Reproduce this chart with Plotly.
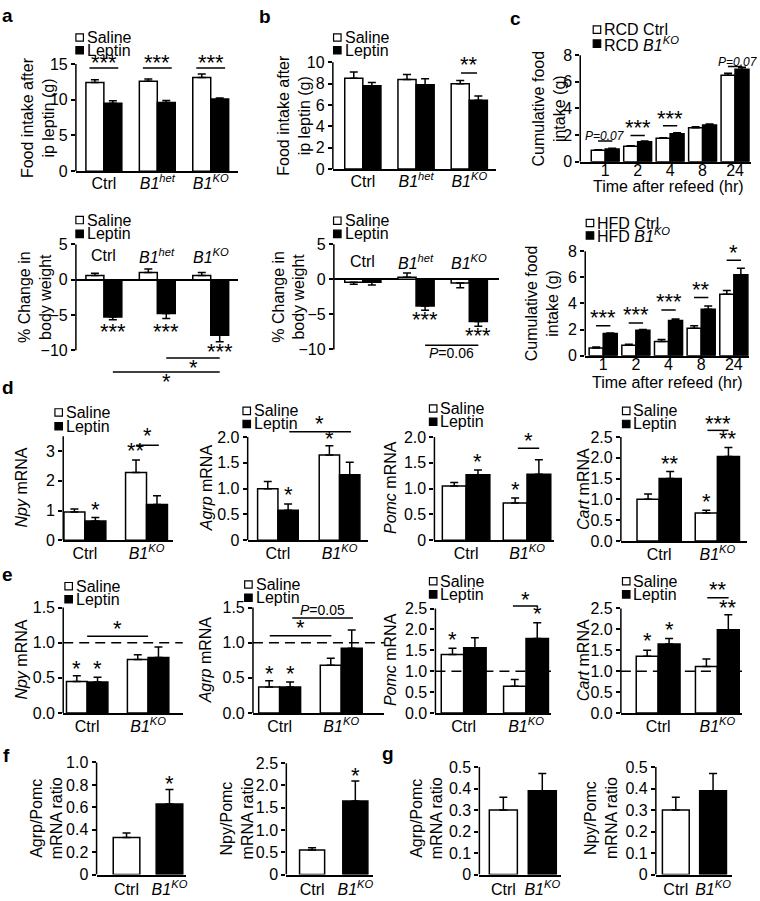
import plotly.graph_objects as go

W, H = 760, 901
FONT = "Liberation Sans, Arial, Helvetica, sans-serif"

# ---------------- data ----------------
groups3 = ["Ctrl", "B1het", "B1KO"]
groups3_text = ["Ctrl", "<i>B1<sup>het</sup></i>", "<i>B1<sup>KO</sup></i>"]
groups2 = ["Ctrl", "B1KO"]
groups2_text = ["Ctrl", "<i>B1<sup>KO</sup></i>"]
hours = ["1", "2", "4", "8", "24"]

# a: RCD food intake after ip leptin (g) and % change in body weight
a_food_saline = [12.4, 12.6, 13.1]
a_food_saline_err = [0.4, 0.3, 0.5]
a_food_leptin = [9.5, 9.6, 10.1]
a_food_leptin_err = [0.35, 0.3, 0.15]
a_bw_saline = [0.6, 1.0, 0.6]
a_bw_saline_err = [0.3, 0.5, 0.4]
a_bw_leptin = [-5.3, -4.8, -7.9]
a_bw_leptin_err = [0.4, 0.7, 0.9]

# b: HFD
b_food_saline = [8.5, 8.4, 8.0]
b_food_saline_err = [0.6, 0.45, 0.3]
b_food_leptin = [7.8, 7.9, 6.45]
b_food_leptin_err = [0.3, 0.55, 0.4]
b_bw_saline = [-0.4, 0.3, -0.5]
b_bw_saline_err = [0.3, 0.6, 0.7]
b_bw_leptin = [-0.4, -3.8, -6.0]
b_bw_leptin_err = [0.4, 0.6, 0.7]

# c: cumulative food intake (g)
c_rcd_ctrl = [0.85, 1.15, 1.75, 2.55, 6.5]
c_rcd_ctrl_err = [0.05, 0.05, 0.05, 0.08, 0.15]
c_rcd_ko = [0.95, 1.5, 2.1, 2.75, 6.95]
c_rcd_ko_err = [0.05, 0.06, 0.08, 0.08, 0.15]
c_hfd_ctrl = [0.6, 0.8, 1.1, 2.1, 4.7]
c_hfd_ctrl_err = [0.08, 0.08, 0.15, 0.2, 0.3]
c_hfd_ko = [1.7, 1.95, 2.7, 3.55, 6.2]
c_hfd_ko_err = [0.05, 0.05, 0.12, 0.25, 0.5]

# d: mRNA (RCD)
d_npy_saline = [0.95, 2.28]; d_npy_saline_err = [0.1, 0.42]
d_npy_leptin = [0.65, 1.2]; d_npy_leptin_err = [0.12, 0.3]
d_agrp_saline = [1.0, 1.65]; d_agrp_saline_err = [0.14, 0.18]
d_agrp_leptin = [0.58, 1.27]; d_agrp_leptin_err = [0.12, 0.24]
d_pomc_saline = [1.05, 0.72]; d_pomc_saline_err = [0.07, 0.1]
d_pomc_leptin = [1.27, 1.28]; d_pomc_leptin_err = [0.09, 0.28]
d_cart_saline = [1.0, 0.67]; d_cart_saline_err = [0.13, 0.07]
d_cart_leptin = [1.5, 2.03]; d_cart_leptin_err = [0.17, 0.22]

# e: mRNA (HFD)
e_npy_saline = [0.45, 0.76]; e_npy_saline_err = [0.08, 0.07]
e_npy_leptin = [0.44, 0.79]; e_npy_leptin_err = [0.07, 0.15]
e_agrp_saline = [0.37, 0.68]; e_agrp_saline_err = [0.09, 0.1]
e_agrp_leptin = [0.37, 0.92]; e_agrp_leptin_err = [0.07, 0.26]
e_pomc_saline = [1.4, 0.64]; e_pomc_saline_err = [0.15, 0.16]
e_pomc_leptin = [1.56, 1.78]; e_pomc_leptin_err = [0.24, 0.38]
e_cart_saline = [1.36, 1.11]; e_cart_saline_err = [0.14, 0.18]
e_cart_leptin = [1.65, 1.99]; e_cart_leptin_err = [0.13, 0.36]

# f, g: ratios
f_agrp_pomc = [0.33, 0.63]; f_agrp_pomc_err = [0.04, 0.13]
f_npy_pomc = [0.55, 1.65]; f_npy_pomc_err = [0.05, 0.45]
g_agrp_pomc = [0.3, 0.39]; g_agrp_pomc_err = [0.06, 0.08]
g_npy_pomc = [0.3, 0.39]; g_npy_pomc_err = [0.06, 0.08]

# ---------------- figure helpers ----------------
fig = go.Figure()
TXT = 16
layout = dict(width=W, height=H, margin=dict(l=0, r=0, t=0, b=0, pad=0),
              paper_bgcolor="white", plot_bgcolor="white", showlegend=False,
              barmode="overlay", font=dict(family=FONT, size=TXT, color="black"))
shapes, annots = [], []
count = [0]
LW = 1.5
TICKF = 16
STAR = 22


def panel(xl, xr, c0, s, ycal, top, bot, cats, yticks, yticktext, yspan,
          xticktext=None, xline=True, zeroline=False, xstandoff=-2):
    count[0] += 1
    n = count[0]
    sfx = "" if n == 1 else str(n)
    xn, yn = "x" + sfx, "y" + sfx
    (v0, p0), (v1, p1) = ycal
    k = (p0 - p1) / (v1 - v0)
    ylo = v0 + (p0 - bot) / k
    yhi = v0 + (p0 - top) / k
    layout["xaxis" + sfx] = dict(
        domain=[xl / W, xr / W], range=[(xl - c0) / s, (xr - c0) / s],
        type="category", categoryorder="array", categoryarray=cats, anchor=yn,
        showline=xline, linecolor="black", linewidth=LW, ticks="", ticklen=0,
        ticklabelstandoff=xstandoff,
        showgrid=False, zeroline=False, tickmode="array", tickvals=cats,
        ticktext=xticktext or cats, showticklabels=xticktext is not None,
        tickfont=dict(size=TICKF, family=FONT), fixedrange=True)
    layout["yaxis" + sfx] = dict(
        domain=[1 - bot / H, 1 - top / H], range=[ylo, yhi], anchor=xn,
        showline=False, ticks="outside", ticklen=4, tickwidth=LW,
        tickcolor="black", tickmode="array", tickvals=yticks,
        ticktext=yticktext, showgrid=False, zeroline=zeroline,
        zerolinecolor="black", zerolinewidth=LW,
        tickfont=dict(size=TICKF, family=FONT), fixedrange=True)
    shapes.append(dict(type="line", xref=xn + " domain", yref=yn, x0=0, x1=0,
                       y0=yspan[0], y1=yspan[1],
                       line=dict(color="black", width=LW)))
    return xn, yn


def bar(ax, cats, vals, errs, color, offset, width):
    up = [e if v >= 0 else 0 for v, e in zip(vals, errs)]
    dn = [0 if v >= 0 else e for v, e in zip(vals, errs)]
    fig.add_trace(go.Bar(
        x=cats, y=vals, xaxis=ax[0], yaxis=ax[1], width=width, offset=offset,
        marker=dict(color=color, line=dict(color="black", width=LW)),
        error_y=dict(type="data", symmetric=False, array=up, arrayminus=dn,
                     color="black", thickness=LW, width=4),
        showlegend=False, hoverinfo="skip"))


def pair(ax, cats, sal, sal_e, lep, lep_e, w, c1="white", c2="black"):
    bar(ax, cats, sal, sal_e, c1, -w, w)
    bar(ax, cats, lep, lep_e, c2, 0, w)


def sline(ax, x0, x1, y):
    shapes.append(dict(type="line", xref=ax[0], yref=ax[1], x0=x0, x1=x1,
                       y0=y, y1=y, line=dict(color="black", width=LW)))


def stext(ax, x, y, text, size=STAR, yshift=1, xshift=0):
    annots.append(dict(xref=ax[0], yref=ax[1], x=x, y=y, text=text,
                       showarrow=False, font=dict(size=size, family=FONT),
                       xanchor="center", yanchor="middle", yshift=yshift,
                       xshift=xshift))


def ptext(x, y, text, size=TXT, angle=0, xanchor="center"):
    annots.append(dict(xref="paper", yref="paper", x=x / W, y=1 - y / H,
                       text=text, showarrow=False,
                       font=dict(size=size, family=FONT),
                       textangle=angle, xanchor=xanchor, yanchor="middle"))


def legend(x, ys, items, size=TXT):
    for y, (fill, text) in zip(ys, items):
        shapes.append(dict(type="rect", xref="paper", yref="paper",
                           x0=x / W, x1=(x + 7.5) / W,
                           y0=1 - (y + 3.75) / H, y1=1 - (y - 3.75) / H,
                           fillcolor=fill, line=dict(color="black", width=1.2)))
        ptext(x + 9, y, text, size=size, xanchor="left")


def dashed(ax, y):
    shapes.append(dict(type="line", xref=ax[0] + " domain", yref=ax[1],
                       x0=0, x1=1, y0=y, y1=y, layer="above",
                       line=dict(color="black", width=LW, dash="10px,6px")))


SL = [("white", "Saline"), ("black", "Leptin")]
BELOW = -3  # shift for stars drawn beneath negative bars

# ---------------- panel a ----------------
w = 0.336
ax = panel(76, 238, 104, 53.5, ((0, 168), (15, 59)), 48, 168, groups3,
           [0, 5, 10, 15], ["0", "5", "10", "15"], (0, 15),
           xticktext=groups3_text, xstandoff=-3)
pair(ax, groups3, a_food_saline, a_food_saline_err, a_food_leptin,
     a_food_leptin_err, w)
for g in range(3):
    sline(ax, g - 0.27, g + 0.27, 14.45)
    stext(ax, g, 15.1, "***")
legend(76, [32, 45], SL)
ptext(38, 113, "Food intake after<br>ip leptin (g)", angle=-90)

ax = panel(76, 238, 104, 53.5, ((0, 278.3), (-10, 350)), 240, 392, groups3,
           [-10, -5, 0, 5], ["\u221210", "\u22125", "0", "5"], (-10, 5),
           xline=False, zeroline=True)
pair(ax, groups3, a_bw_saline, a_bw_saline_err, a_bw_leptin,
     a_bw_leptin_err, w)
for g, t in enumerate(groups3_text):
    stext(ax, g, 3.4, t, size=TICKF, yshift=0)
stext(ax, w / 2, -6.9, "***", yshift=BELOW)
stext(ax, 1 + w / 2, -6.9, "***", yshift=BELOW)
stext(ax, 2 + w / 2, -9.7, "***", yshift=BELOW)
sline(ax, 1 + w / 2, 2 + w / 2, -11.1)
stext(ax, 1.67, -12.0, "*", yshift=BELOW)
sline(ax, w / 2, 2 + w / 2, -13.1)
stext(ax, 1.17, -14.0, "*", yshift=BELOW)
legend(76, [217.7, 231.7], SL)
ptext(35, 296, "% Change in<br>body weight", angle=-90)

# ---------------- panel b ----------------
w = 0.34
ax = panel(333.3, 497, 363.3, 53.3, ((0, 165.7), (10, 57.3)), 50, 165.7,
           groups3, [0, 2, 4, 6, 8, 10], ["0", "2", "4", "6", "8", "10"],
           (0, 10), xticktext=groups3_text, xstandoff=-3)
pair(ax, groups3, b_food_saline, b_food_saline_err, b_food_leptin,
     b_food_leptin_err, w)
sline(ax, 2 - 0.155, 2 + 0.145, 9.0)
stext(ax, 2, 9.75, "**")
legend(334, [32, 45], SL)
ptext(295, 111, "Food intake after<br>ip leptin (g)", angle=-90)

ax = panel(334.3, 500, 363.3, 53.3, ((0, 278), (-10, 349.3)), 238, 362,
           groups3, [-10, -5, 0, 5], ["\u221210", "\u22125", "0", "5"],
           (-10, 5), xline=False, zeroline=True)
pair(ax, groups3, b_bw_saline, b_bw_saline_err, b_bw_leptin,
     b_bw_leptin_err, w)
for g, t in enumerate(groups3_text):
    stext(ax, g, 2.5, t, size=TICKF, yshift=0)
stext(ax, 1 + w / 2, -5.3, "***", yshift=BELOW)
stext(ax, 2 + w / 2, -7.6, "***", yshift=BELOW)
sline(ax, 1 + w / 2, 2 + w / 2, -9.4)
stext(ax, 1.67, -10.55, "<i>P</i>=0.06", size=14, yshift=0)
legend(334, [218.3, 231.7], SL)
ptext(289, 296, "% Change in<br>body weight", angle=-90)

# ---------------- panel c ----------------
w = 0.43
ax = panel(581, 752, 606, 32.5, ((0, 158.3), (8, 50)), 45, 158.3, hours,
           [0, 2, 4, 6, 8], ["0", "2", "4", "6", "8"], (0, 8),
           xticktext=hours, xstandoff=-7)
pair(ax, hours, c_rcd_ctrl, c_rcd_ctrl_err, c_rcd_ko, c_rcd_ko_err, w)
sline(ax, -0.22, 0.22, 1.55)
stext(ax, 0, 1.92, "<i>P=0.07</i>", size=12, yshift=0)
sline(ax, 1 - 0.22, 1 + 0.22, 1.97)
stext(ax, 1, 2.46, "***")
sline(ax, 2 - 0.22, 2 + 0.22, 2.7)
stext(ax, 2, 3.2, "***")
sline(ax, 4 - 0.22, 4 + 0.22, 7.14)
stext(ax, 4, 7.5, "<i>P=0.07</i>", size=12, yshift=0, xshift=3)
legend(594, [24, 38.3], [("white", "RCD Ctrl"),
                         ("black", "RCD <i>B1<sup>KO</sup></i>")])
ptext(550, 104, "Cumulative food<br>intake (g)", angle=-90)
ptext(669.5, 183.5, "Time after refeed (hr)")

ax = panel(586, 750, 604, 32.7, ((0, 355.7), (8, 249.3)), 243, 355.7, hours,
           [0, 2, 4, 6, 8], ["0", "2", "4", "6", "8"], (0, 8),
           xticktext=hours, xstandoff=-7)
pair(ax, hours, c_hfd_ctrl, c_hfd_ctrl_err, c_hfd_ko, c_hfd_ko_err, w)
for g, yl, txt in [(0, 2.3, "***"), (1, 2.5, "***"), (2, 3.5, "***"),
                   (3, 4.45, "**"), (4, 7.3, "*")]:
    sline(ax, g - 0.22, g + 0.22, yl)
    stext(ax, g, yl + 0.55, txt)
legend(587, [220.7, 233.3], [("white", "HFD Ctrl"),
                             ("black", "HFD <i>B1<sup>KO</sup></i>")])
ptext(543, 302, "Cumulative food<br>intake (g)", angle=-90)
ptext(668, 382.5, "Time after refeed (hr)")

# ---------------- panel d ----------------
t05 = ["0", "0.5", "1.0", "1.5", "2.0"]
t25 = ["0.0", "0.5", "1.0", "1.5", "2.0", "2.5"]
v05 = [0, 0.5, 1, 1.5, 2]
v25 = [0, 0.5, 1, 1.5, 2, 2.5]

w = 0.34
ax = panel(63.3, 173, 85, 61.7, ((0, 543.3), (3, 452.7)), 428, 543.3,
           groups2, [0, 1, 2, 3], ["0", "1", "2", "3"], (0, 3.5),
           xticktext=groups2_text)
pair(ax, groups2, d_npy_saline, d_npy_saline_err, d_npy_leptin,
     d_npy_leptin_err, w)
stext(ax, w / 2, 1.0, "*")
stext(ax, 1 - w / 2, 3.0, "**")
sline(ax, 1 - w / 2, 1 + w / 2 + 0.03, 3.2)
stext(ax, 1.02, 3.5, "*")
legend(55, [413.3, 427.3], SL)
ptext(21.7, 490, "<i>Npy</i> mRNA", angle=-90)

w = 0.33
ax = panel(248, 368, 278.3, 61.7, ((0, 543.3), (2, 438.3)), 420, 543.3,
           groups2, v05, t05, (0, 2), xticktext=groups2_text)
pair(ax, groups2, d_agrp_saline, d_agrp_saline_err, d_agrp_leptin,
     d_agrp_leptin_err, w)
stext(ax, w / 2, 0.86, "*")
stext(ax, 1 - w / 2, 1.95, "*")
sline(ax, w / 2 + 0.02, 1 + w / 2 + 0.02, 2.1)
stext(ax, 0.68, 2.25, "*")
legend(243.3, [411.7, 425], SL)
ptext(206.7, 490, "<i>Agrp</i> mRNA", angle=-90)

w = 0.39
ax = panel(435, 555, 466.7, 61, ((0, 543.3), (2, 438.3)), 430, 543.3,
           groups2, v05, t05, (0, 2), xticktext=groups2_text)
pair(ax, groups2, d_pomc_saline, d_pomc_saline_err, d_pomc_leptin,
     d_pomc_leptin_err, w)
stext(ax, w / 2, 1.5, "*")
stext(ax, 1 - w / 2, 0.97, "*")
sline(ax, 1 - 0.15, 1 + 0.2, 1.78)
stext(ax, 1.02, 1.92, "*")
legend(430, [409.3, 422.7], SL)
ptext(391.7, 490, "<i>Pomc</i> mRNA", angle=-90)

w = 0.38
ax = panel(621.7, 748, 660, 58.3, ((0, 544), (2.5, 438.3)), 418, 544,
           groups2, v25, t25, (0, 2.5), xticktext=groups2_text)
pair(ax, groups2, d_cart_saline, d_cart_saline_err, d_cart_leptin,
     d_cart_leptin_err, w)
stext(ax, w / 2, 1.84, "**")
stext(ax, 1 - w / 2, 0.92, "*")
sline(ax, 1 - 0.17, 1 + 0.19, 2.66)
stext(ax, 1.01, 2.81, "***")
stext(ax, 1 + w / 2, 2.44, "**")
legend(623.3, [411.7, 425], SL)
ptext(585, 491, "<i>Cart</i> mRNA", angle=-90)

# ---------------- panel e ----------------
t15 = ["0.0", "0.5", "1.0", "1.5"]
v15 = [0, 0.5, 1, 1.5]

w = 0.34
ax = panel(63.3, 183, 87.3, 61, ((0, 719), (1.5, 611.7)), 605, 719,
           groups2, v15, t15, (0, 1.5), xticktext=groups2_text)
pair(ax, groups2, e_npy_saline, e_npy_saline_err, e_npy_leptin,
     e_npy_leptin_err, w)
dashed(ax, 1.0)
stext(ax, -w / 2, 0.62, "*")
stext(ax, w / 2, 0.62, "*")
sline(ax, 0, 1, 1.09)
stext(ax, 0.5, 1.19, "*")
legend(65, [590, 603.3], SL)
ptext(21.7, 665, "<i>Npy</i> mRNA", angle=-90)

ax = panel(253.3, 385, 280, 61.7, ((0, 719), (1.5, 611.7)), 600, 719,
           groups2, v15, t15, (0, 1.5), xticktext=groups2_text)
pair(ax, groups2, e_agrp_saline, e_agrp_saline_err, e_agrp_leptin,
     e_agrp_leptin_err, w)
dashed(ax, 1.0)
stext(ax, -w / 2, 0.55, "*")
stext(ax, w / 2, 0.55, "*")
sline(ax, -0.16, 0.84, 1.1)
stext(ax, 0.34, 1.2, "*")
sline(ax, 0.205, 1.19, 1.35)
stext(ax, 0.7, 1.47, "<i>P</i>=0.05", size=14, yshift=0)
legend(245, [588.3, 601.7], SL)
ptext(206.7, 665, "<i>Agrp</i> mRNA", angle=-90)

w = 0.36
ax = panel(436, 551.7, 464.3, 62.4, ((0, 719), (2.5, 612.7)), 598, 719,
           groups2, v25, t25, (0, 2.5), xticktext=groups2_text)
pair(ax, groups2, e_pomc_saline, e_pomc_saline_err, e_pomc_leptin,
     e_pomc_leptin_err, w)
dashed(ax, 1.0)
stext(ax, -w / 2, 1.74, "*")
stext(ax, 1 + w / 2, 2.35, "*")
sline(ax, 1 - 0.21, 1 + 0.19, 2.56)
stext(ax, 0.99, 2.7, "*")
legend(430, [585, 598.3], SL)
ptext(391.7, 665, "<i>Pomc</i> mRNA", angle=-90)

w = 0.37
ax = panel(621.7, 743, 659, 59.3, ((0, 719), (2.5, 612.7)), 590, 719,
           groups2, v25, t25, (0, 2.5), xticktext=groups2_text)
pair(ax, groups2, e_cart_saline, e_cart_saline_err, e_cart_leptin,
     e_cart_leptin_err, w)
dashed(ax, 1.0)
stext(ax, -w / 2, 1.7, "*")
stext(ax, w / 2, 1.98, "*")
sline(ax, 1 - 0.17, 1 + 0.19, 2.76)
stext(ax, 1.01, 2.92, "**")
stext(ax, 1 + w / 2, 2.49, "**")
legend(623.3, [585, 598.3], SL)
ptext(585, 665, "<i>Cart</i> mRNA", angle=-90)

# ---------------- panels f, g ----------------
FILL2 = ["white", "black"]


def ratio_panel(xl, xr, c0, s, ycal, yticks, yticktext, yspan, vals, errs,
                w, title, tx, star=None):
    ax = panel(xl, xr, c0, s, ycal, 765, 883.3, groups2, yticks, yticktext,
               yspan, xticktext=groups2_text, xstandoff=-1)
    bar(ax, groups2, vals, errs, FILL2, -w / 2, w)
    if star is not None:
        stext(ax, 1, star, "*")
    ptext(tx, 826, title, angle=-90)


ratio_panel(96.7, 186.7, 126.7, 43, ((0, 883.3), (1.0, 769.3)),
            [0, 0.2, 0.4, 0.6, 0.8, 1.0], ["0", "0.2", "0.4", "0.6", "0.8", "1.0"],
            (0, 1.0), f_agrp_pomc, f_agrp_pomc_err, 0.62,
            "Agrp/Pomc<br>mRNA ratio", 47, star=0.8)
ratio_panel(286.7, 373, 312.5, 43.3, ((0, 883.3), (2.5, 770)),
            [0, 0.5, 1, 1.5, 2, 2.5], ["0", "0.5", "1.0", "1.5", "2.0", "2.5"],
            (0, 2.5), f_npy_pomc, f_npy_pomc_err, 0.58,
            "Npy/Pomc<br>mRNA ratio", 237.5, star=2.2)
g_ticks = [0, 0.1, 0.2, 0.3, 0.4, 0.5]
g_text = ["0", "0.1", "0.2", "0.3", "0.4", "0.5"]
ratio_panel(480, 561.7, 504, 39, ((0, 883.3), (0.5, 774)), g_ticks, g_text,
            (0, 0.5), g_agrp_pomc, g_agrp_pomc_err, 0.72,
            "Agrp/Pomc<br>mRNA ratio", 427.5)
ratio_panel(656.7, 733.3, 676.7, 37.3, ((0, 883.3), (0.5, 774)), g_ticks,
            g_text, (0, 0.5), g_npy_pomc, g_npy_pomc_err, 0.72,
            "Npy/Pomc<br>mRNA ratio", 602.5)

# ---------------- panel letters ----------------
for letter, lx, ly in [("a", 0, 10), ("b", 257, 11), ("c", 509, 12.5),
                       ("d", 0, 387.5), ("e", 0, 578.5), ("f", 1, 762),
                       ("g", 380, 760.5)]:
    ptext(lx, ly, "<b>%s</b>" % letter, size=19, xanchor="left")

layout["shapes"] = shapes
layout["annotations"] = annots
fig.update_layout(**layout)
fig.write_html("out.html", config={"displayModeBar": False},
               post_script="document.body.style.margin='0';"
                           "document.body.style.overflow='hidden';")
